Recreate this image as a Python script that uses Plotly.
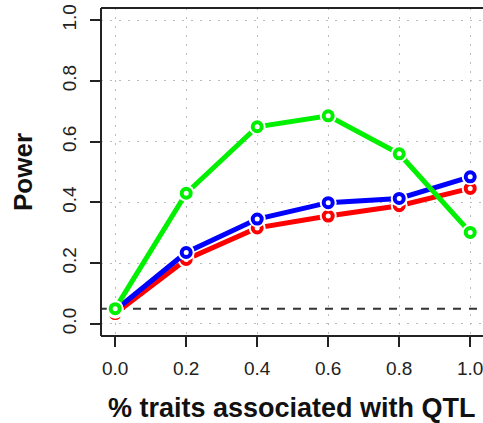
import plotly.graph_objects as go

x_vals = [0.0, 0.2, 0.4, 0.6, 0.8, 1.0]
red_power = [0.034, 0.212, 0.316, 0.355, 0.389, 0.446]
blue_power = [0.045, 0.235, 0.345, 0.399, 0.413, 0.484]
green_power = [0.050, 0.430, 0.649, 0.685, 0.560, 0.301]
threshold = 0.05
tick_vals = [0.0, 0.2, 0.4, 0.6, 0.8, 1.0]
tick_text = ["0.0", "0.2", "0.4", "0.6", "0.8", "1.0"]

series = [
    ("red", red_power, "#FF0000"),
    ("blue", blue_power, "#0000FF"),
    ("green", green_power, "#00F000"),
]

fig = go.Figure()
for name, ys, col in series:
    fig.add_trace(go.Scatter(x=x_vals, y=ys, mode="lines",
                             line=dict(color=col, width=5), showlegend=False, hoverinfo="skip"))
    fig.add_trace(go.Scatter(x=x_vals, y=ys, mode="markers",
                             marker=dict(symbol="circle", size=17, color="white", line=dict(width=0)),
                             showlegend=False, hoverinfo="skip"))
    fig.add_trace(go.Scatter(x=x_vals, y=ys, mode="markers", name=name,
                             marker=dict(symbol="circle-open", size=9, color=col, line=dict(width=4, color=col)),
                             showlegend=False))

axis_col = "#222222"
fig.update_layout(
    width=483, height=423,
    margin=dict(l=101, r=0, t=8, b=87),
    plot_bgcolor="white", paper_bgcolor="white",
    font=dict(family="Liberation Sans, Arial, sans-serif", color="#222222"),
    xaxis=dict(range=[-0.04, 1.036], tickvals=tick_vals, ticktext=tick_text,
               ticks="outside", ticklen=10, tickwidth=1.5, tickcolor=axis_col,
               showgrid=True, gridcolor="#BBBBBB", gridwidth=1.3, griddash="2px,7px",
               zeroline=False, showline=False, tickfont=dict(size=19),
               ticklabeloverflow="allow", ticklabelstandoff=5),
    yaxis=dict(range=[-0.04, 1.04], tickvals=tick_vals, ticktext=tick_text,
               ticks="outside", ticklen=10, tickwidth=1.5, tickcolor=axis_col,
               showgrid=True, gridcolor="#BBBBBB", gridwidth=1.3, griddash="2px,7px",
               zeroline=False, showline=False, tickfont=dict(size=19), tickangle=-90,
               ticklabelstandoff=6),
    shapes=[
        dict(type="line", xref="paper", yref="y", x0=0, x1=1, y0=threshold, y1=threshold,
             line=dict(color="#333333", width=2, dash="8px,8px"), layer="below"),
        dict(type="line", xref="paper", yref="paper", x0=0, x1=0, y0=0, y1=1,
             line=dict(color=axis_col, width=2)),
        dict(type="line", xref="paper", yref="paper", x0=0, x1=1, y0=0, y1=0,
             line=dict(color=axis_col, width=2)),
        dict(type="line", xref="paper", yref="paper", x0=0, x1=1, y0=1, y1=1,
             line=dict(color=axis_col, width=2)),
    ],
    annotations=[
        dict(text="<b>% traits associated with QTL</b>", xref="paper", yref="paper",
             x=0.5, y=0, xanchor="center", yanchor="middle", yshift=-72,
             showarrow=False, font=dict(size=27, color="#111111")),
        dict(text="<b>Power</b>", xref="paper", yref="paper",
             x=0, y=0.5, xanchor="center", yanchor="middle", xshift=-78,
             textangle=-90, showarrow=False, font=dict(size=26, color="#111111")),
    ],
)

fig.write_html("out.html")
